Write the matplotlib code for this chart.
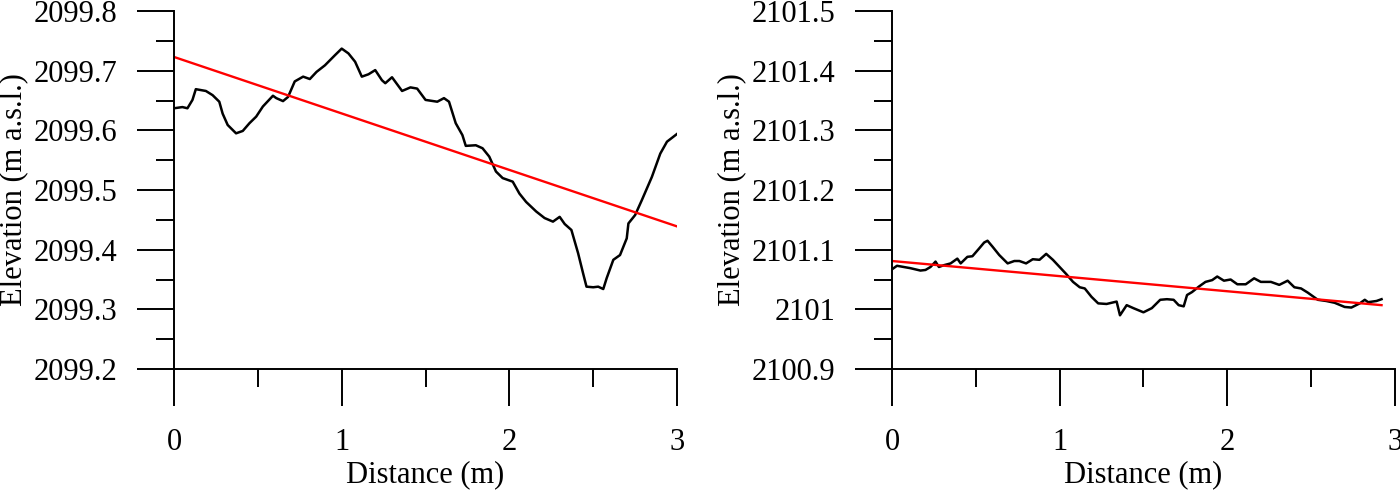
import matplotlib
matplotlib.use('Agg')
import matplotlib.pyplot as plt
from matplotlib.ticker import MultipleLocator, FuncFormatter

plt.rcParams['font.family'] = ['Liberation Serif', 'DejaVu Serif']
plt.rcParams['font.size'] = 22

# Profile 1 (left panel): measured elevation vs distance
dist_a = [0.00, 0.05, 0.08, 0.11, 0.13, 0.19, 0.23, 0.27, 0.29, 0.32, 0.37, 0.41, 0.45,
          0.49, 0.53, 0.59, 0.61, 0.65, 0.68, 0.72, 0.77, 0.81, 0.85, 0.90, 0.96, 1.00,
          1.04, 1.08, 1.12, 1.16, 1.20, 1.24, 1.26, 1.30, 1.36, 1.41, 1.45, 1.50, 1.57,
          1.61, 1.64, 1.68, 1.72, 1.74, 1.80, 1.84, 1.88, 1.92, 1.96, 2.02, 2.06, 2.10,
          2.16, 2.21, 2.26, 2.30, 2.33, 2.37, 2.41, 2.44, 2.46, 2.50, 2.53, 2.56, 2.58,
          2.62, 2.66, 2.70, 2.71, 2.75, 2.79, 2.85, 2.90, 2.94, 3.00]
elev_a = [2099.637, 2099.639, 2099.637, 2099.651, 2099.669, 2099.666, 2099.659, 2099.648,
          2099.628, 2099.609, 2099.595, 2099.599, 2099.612, 2099.623, 2099.640, 2099.658,
          2099.654, 2099.649, 2099.656, 2099.682, 2099.690, 2099.686, 2099.698, 2099.709,
          2099.726, 2099.737, 2099.729, 2099.715, 2099.690, 2099.694, 2099.701, 2099.684,
          2099.679, 2099.689, 2099.666, 2099.672, 2099.670, 2099.651, 2099.648, 2099.654,
          2099.648, 2099.612, 2099.592, 2099.574, 2099.575, 2099.570, 2099.556, 2099.531,
          2099.520, 2099.514, 2099.494, 2099.480, 2099.464, 2099.453, 2099.447, 2099.455,
          2099.443, 2099.433, 2099.394, 2099.360, 2099.338, 2099.337, 2099.338, 2099.334,
          2099.352, 2099.383, 2099.391, 2099.419, 2099.444, 2099.458, 2099.483, 2099.522,
          2099.561, 2099.581, 2099.594]
fit_a_x = [0.0, 3.0]
fit_a_y = [2099.723, 2099.439]

# Profile 2 (right panel)
dist_b = [0.00, 0.03, 0.07, 0.11, 0.17, 0.20, 0.23, 0.26, 0.28, 0.31, 0.35, 0.39, 0.41,
          0.45, 0.48, 0.52, 0.55, 0.57, 0.60, 0.64, 0.69, 0.73, 0.76, 0.80, 0.84, 0.88,
          0.92, 0.96, 1.00, 1.04, 1.08, 1.12, 1.15, 1.19, 1.23, 1.28, 1.34, 1.36, 1.40,
          1.44, 1.50, 1.55, 1.60, 1.64, 1.68, 1.71, 1.74, 1.76, 1.79, 1.83, 1.87, 1.91,
          1.94, 1.98, 2.02, 2.06, 2.11, 2.16, 2.20, 2.26, 2.31, 2.36, 2.40, 2.44, 2.48,
          2.54, 2.59, 2.64, 2.70, 2.74, 2.79, 2.82, 2.84, 2.89, 2.92]
elev_b = [2101.067, 2101.073, 2101.071, 2101.069, 2101.065, 2101.066, 2101.071, 2101.080,
          2101.071, 2101.074, 2101.077, 2101.085, 2101.077, 2101.088, 2101.089, 2101.102,
          2101.112, 2101.115, 2101.105, 2101.091, 2101.077, 2101.081, 2101.081, 2101.077,
          2101.084, 2101.083, 2101.093, 2101.083, 2101.071, 2101.059, 2101.046, 2101.037,
          2101.035, 2101.021, 2101.010, 2101.009, 2101.013, 2100.990, 2101.007, 2101.002,
          2100.995, 2101.002, 2101.016, 2101.017, 2101.016, 2101.007, 2101.005, 2101.024,
          2101.029, 2101.038, 2101.046, 2101.049, 2101.055, 2101.048, 2101.050, 2101.042,
          2101.042, 2101.052, 2101.046, 2101.046, 2101.041, 2101.048, 2101.037, 2101.035,
          2101.028, 2101.016, 2101.014, 2101.011, 2101.004, 2101.003, 2101.010, 2101.016,
          2101.012, 2101.014, 2101.017]
fit_b_x = [0.0, 2.92]
fit_b_y = [2101.081, 2101.007]

panels = [
    (dist_a, elev_a, fit_a_x, fit_a_y, (2099.2, 2099.8), 0.1243),
    (dist_b, elev_b, fit_b_x, fit_b_y, (2100.9, 2101.5), 0.6371),
]

fig = plt.figure(figsize=(14, 4.92), dpi=100)

for d, e, fx, fy, ylim, left in panels:
    ax = fig.add_axes([left, 0.25, 0.3593, 0.7276])
    ax.plot(d, e, color='black', lw=1.8)
    ax.plot(fx, fy, color='#ff0000', lw=1.7)
    ax.set_xlim(0, 3)
    ax.set_ylim(*ylim)
    ax.xaxis.set_major_locator(MultipleLocator(1))
    ax.xaxis.set_minor_locator(MultipleLocator(0.5))
    ax.yaxis.set_major_locator(MultipleLocator(0.1))
    ax.yaxis.set_minor_locator(MultipleLocator(0.05))
    ax.yaxis.set_major_formatter(FuncFormatter(lambda v, p: '%g' % round(v, 1)))
    for s in ['top', 'right']:
        ax.spines[s].set_visible(False)
    for s in ['left', 'bottom']:
        ax.spines[s].set_linewidth(1.4)
    ax.tick_params(which='major', direction='out', length=26.6, width=1.4)
    ax.tick_params(which='minor', direction='out', length=13, width=1.4)
    ax.tick_params(axis='y', which='major', pad=14)
    ax.tick_params(axis='x', which='major', pad=16)
    ax.set_xlabel('Distance (m)', labelpad=2)
    ax.set_ylabel('Elevation (m a.s.l.)', labelpad=4)

fig.savefig('out.png', dpi=100)
